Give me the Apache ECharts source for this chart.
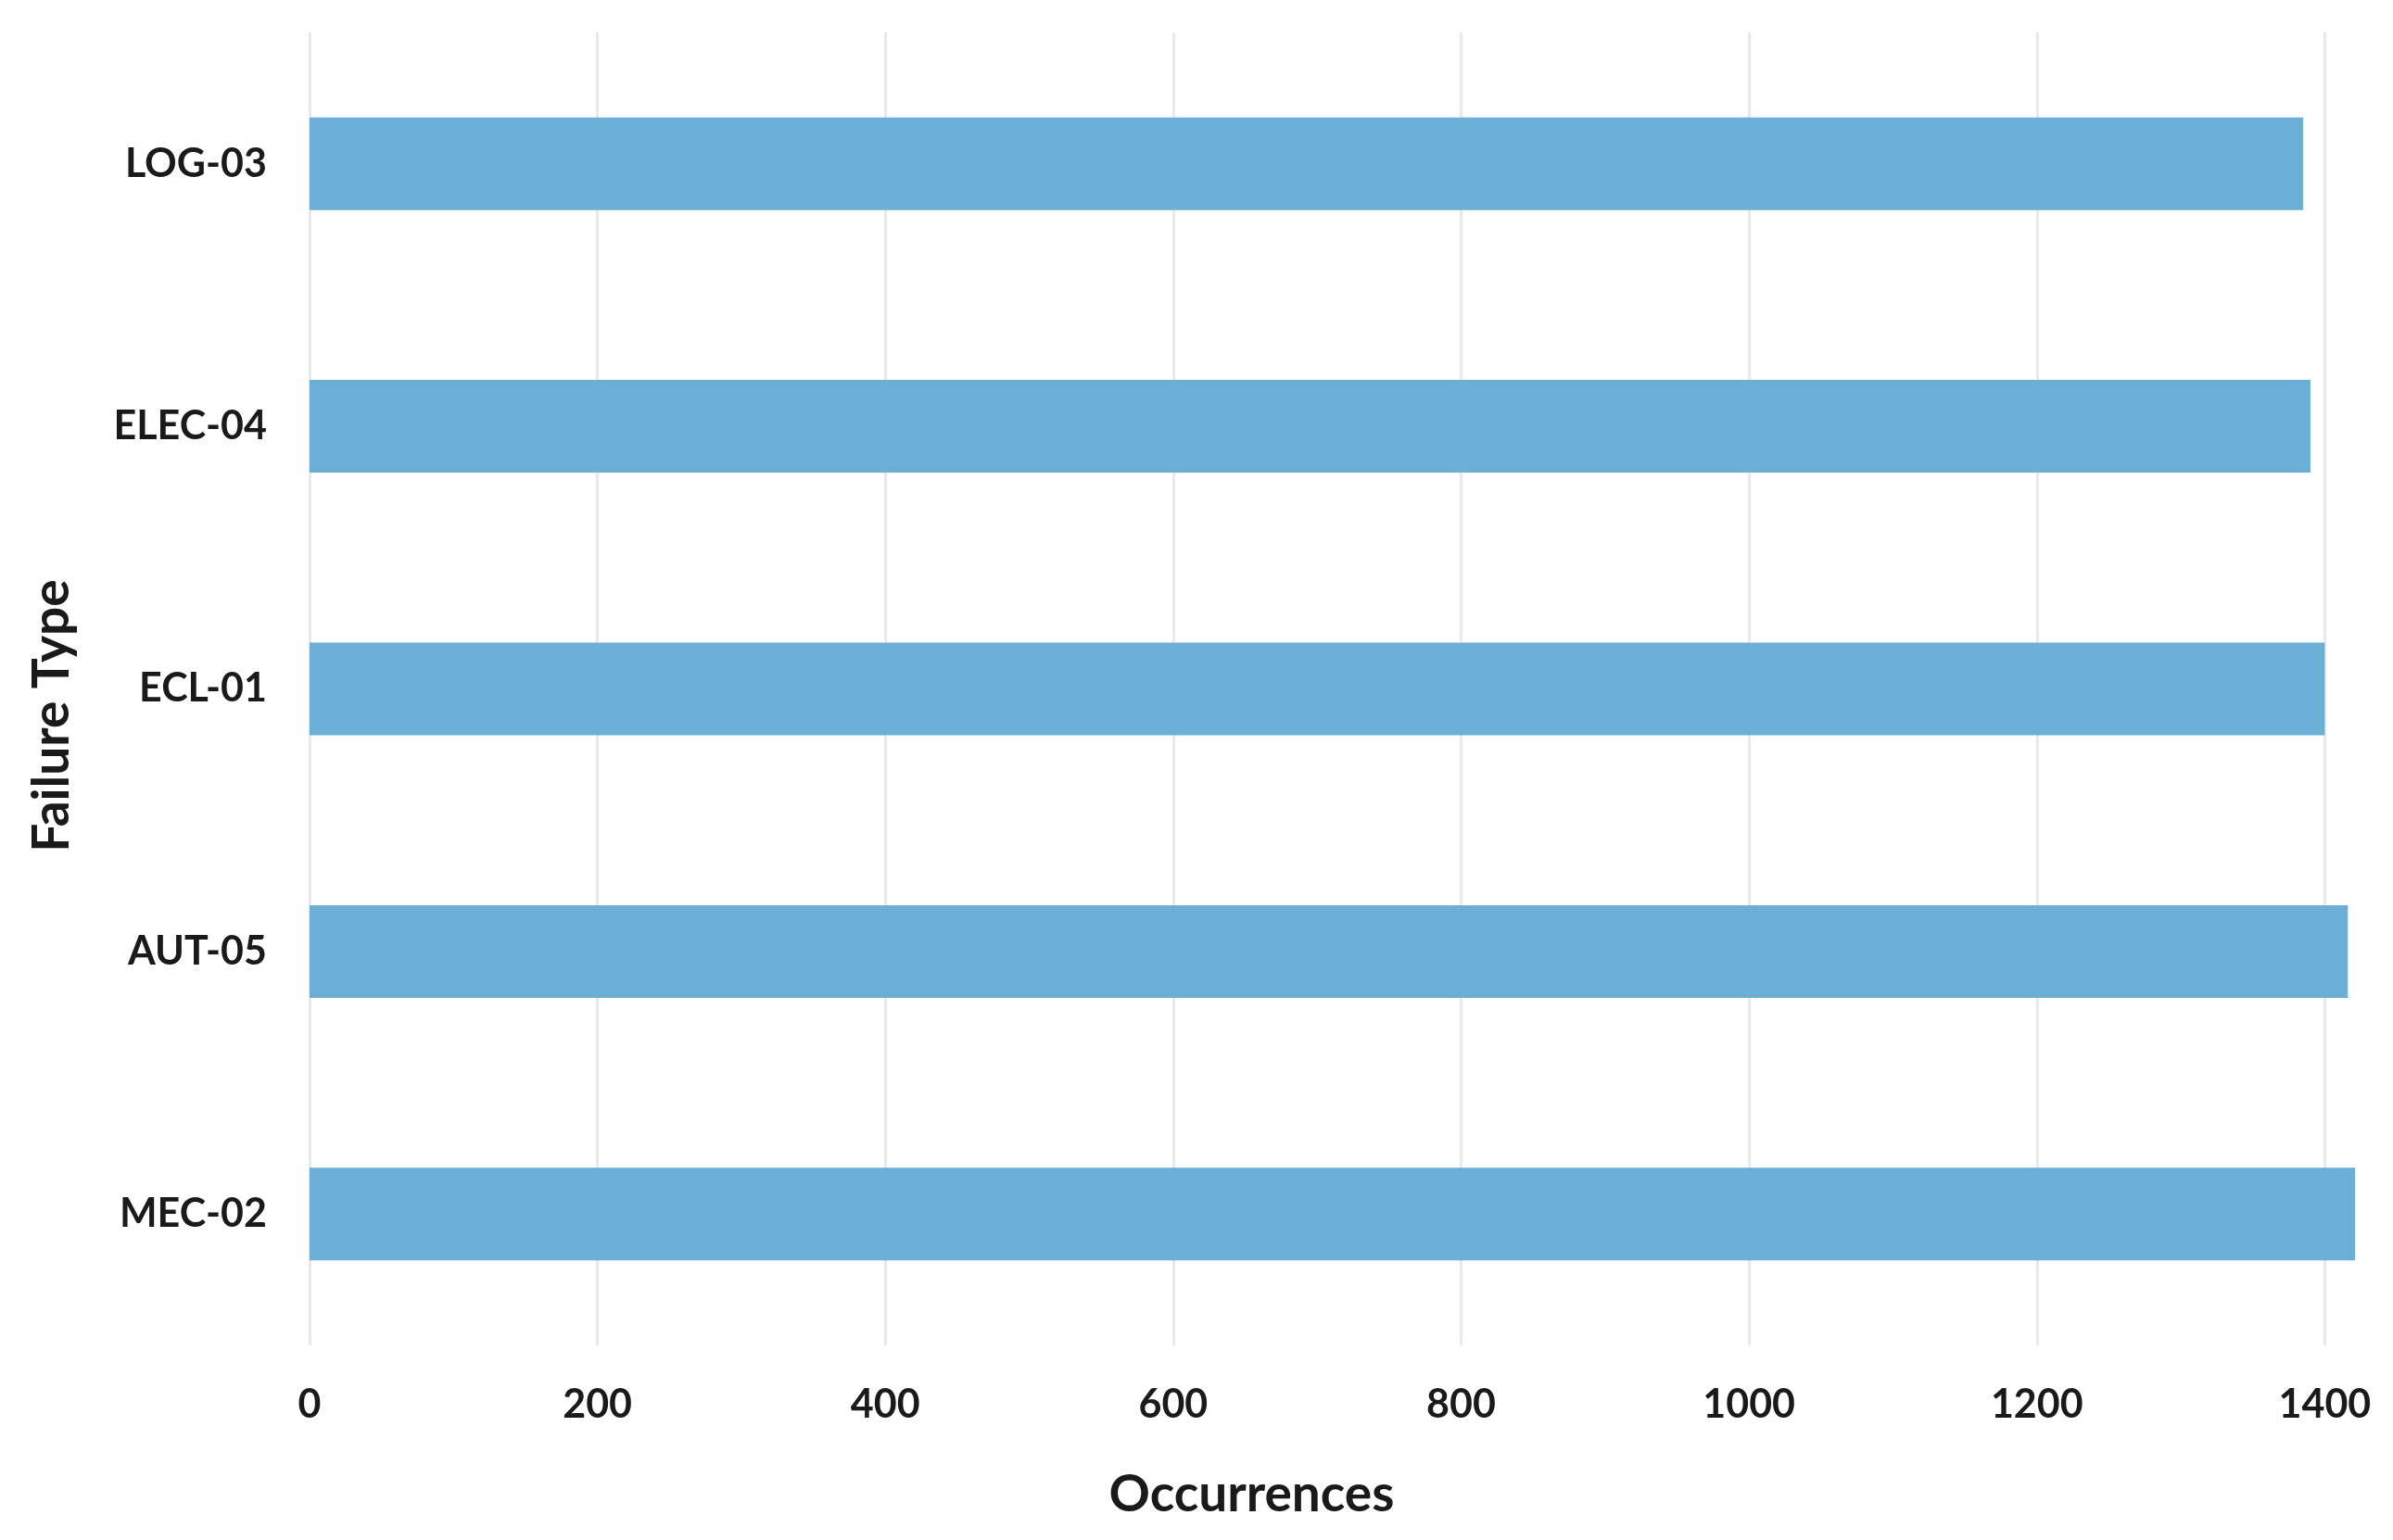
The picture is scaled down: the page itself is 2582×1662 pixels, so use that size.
<!DOCTYPE html>
<html>
<head>
<meta charset="utf-8">
<title>Failure Type Occurrences</title>
<script src="https://cdn.jsdelivr.net/npm/echarts@6/dist/echarts.min.js"></script>
<style>
  html, body { margin: 0; padding: 0; background: #fff; }
  #chart { width: 2582px; height: 1662px; }
</style>
</head>
<body>
<div id="chart"></div>
<script>
// bottom to top, as drawn on the category axis
var failureTypes = ['MEC-02', 'AUT-05', 'ECL-01', 'ELEC-04', 'LOG-03'];
var occurrences = [1421, 1416, 1400, 1390, 1385];
var xTicks = [0, 200, 400, 600, 800, 1000, 1200, 1400];

var fontFamily = 'Lato, "Open Sans", sans-serif';
var chart = echarts.init(document.getElementById('chart'));

chart.setOption({
    backgroundColor: '#ffffff',
    animation: false,
    grid: {
        left: 334,
        right: 27,
        top: 35,
        bottom: 210
    },
    xAxis: {
        type: 'value',
        min: xTicks[0],
        max: 1430,
        interval: xTicks[1] - xTicks[0],
        name: 'Occurrences',
        nameLocation: 'middle',
        nameGap: 134,
        nameTextStyle: {
            fontFamily: fontFamily,
            fontWeight: 'bold',
            fontSize: 55,
            color: '#1a1a1a',
            padding: [0, 188, 0, 0]
        },
        axisLine: { show: false },
        axisTick: { show: false },
        axisLabel: {
            margin: 43,
            showMaxLabel: false,
            fontFamily: fontFamily,
            fontWeight: 'bold',
            fontSize: 43,
            color: '#1a1a1a',
            formatter: function (v) { return String(v); }
        },
        splitLine: {
            show: true,
            showMaxLine: false,
            lineStyle: { color: '#e9e9e9', width: 3 }
        }
    },
    yAxis: {
        type: 'category',
        data: failureTypes,
        name: 'Failure Type',
        nameLocation: 'middle',
        nameGap: 250,
        nameTextStyle: {
            fontFamily: fontFamily,
            fontWeight: 'bold',
            fontSize: 55,
            color: '#1a1a1a',
            padding: [0, 58, 0, 0]
        },
        axisLine: { show: false },
        axisTick: { show: false },
        axisLabel: {
            margin: 46,
            fontFamily: fontFamily,
            fontWeight: 'bold',
            fontSize: 43,
            color: '#1a1a1a'
        },
        splitLine: { show: false }
    },
    series: [{
        name: 'Occurrences',
        type: 'bar',
        data: occurrences,
        barWidth: 100,
        itemStyle: { color: '#6baed6' }
    }]
});
</script>
</body>
</html>
